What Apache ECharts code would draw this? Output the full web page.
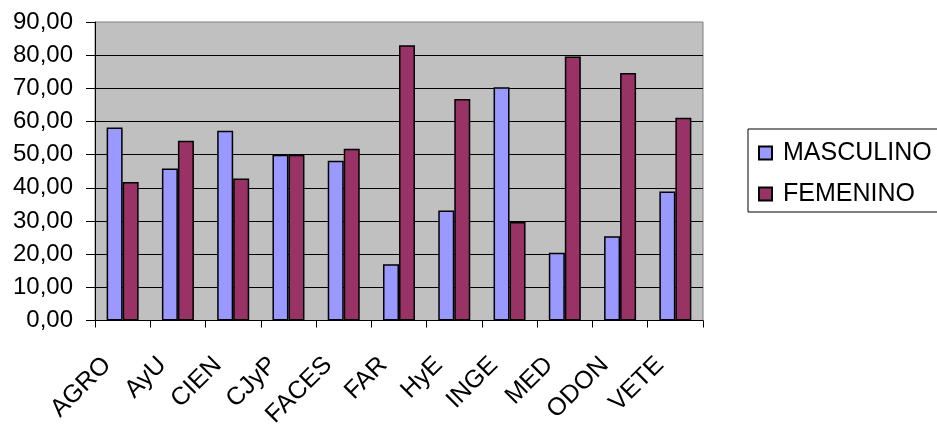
<!DOCTYPE html>
<html>
<head>
<meta charset="utf-8">
<script src="https://cdn.jsdelivr.net/npm/echarts@6/dist/echarts.min.js"></script>
<style>
html,body{margin:0;padding:0;background:#fff;}
#chart{width:937px;height:430px;}
</style>
</head>
<body>
<div id="chart"></div>
<script>
var categories = ['AGRO','AyU','CIEN','CJyP','FACES','FAR','HyE','INGE','MED','ODON','VETE'];
var masculino = [58.2, 45.8, 57.2, 50.0, 48.2, 17.0, 33.2, 70.3, 20.4, 25.4, 38.9];
var femenino = [41.8, 54.2, 42.8, 50.0, 51.8, 83.0, 66.8, 29.7, 79.6, 74.6, 61.1];
var seriesNames = ['MASCULINO', 'FEMENINO'];
var yMin = 0, yMax = 90, yStep = 10;

var FONT = '"Liberation Sans", Arial, sans-serif';
var chart = echarts.init(document.getElementById('chart'), null, {renderer: 'canvas'});
chart.setOption({
  animation: false,
  backgroundColor: '#ffffff',
  textStyle: {fontFamily: FONT, color: '#000'},
  grid: {
    left: 95, right: 234, top: 22, bottom: 108,
    show: true, backgroundColor: '#C0C0C0', borderColor: '#808080', borderWidth: 1
  },
  legend: {
    orient: 'vertical',
    left: 748, top: 129,
    padding: [10, 6, 4, 10],
    borderColor: '#000', borderWidth: 1, backgroundColor: '#fff',
    icon: 'rect', itemWidth: 13, itemHeight: 13, itemGap: 13,
    textStyle: {fontFamily: FONT, fontSize: 25, color: '#000', lineHeight: 28, padding: [0, 0, 0, 6]},
    data: seriesNames
  },
  xAxis: {
    type: 'category',
    data: categories,
    axisLine: {show: true, lineStyle: {color: '#000', width: 1}},
    axisTick: {show: true, length: 7, alignWithLabel: false, interval: 0, lineStyle: {color: '#000'}},
    axisLabel: {
      interval: 0, rotate: 45, margin: 25,
      fontFamily: FONT, fontSize: 25, color: '#000',
      padding: [0, 22, 0, 0]
    },
    splitLine: {show: false}
  },
  yAxis: {
    type: 'value',
    min: yMin, max: yMax, interval: yStep,
    axisLine: {show: true, lineStyle: {color: '#000', width: 1}},
    axisTick: {show: true, length: 9, inside: false, lineStyle: {color: '#000'}},
    axisLabel: {
      margin: 22, fontFamily: FONT, fontSize: 24, color: '#000',
      formatter: function (v) { return v.toFixed(2).replace('.', ','); }
    },
    splitLine: {show: true, showMaxLine: false, lineStyle: {color: '#000', width: 1}}
  },
  series: [
    {
      name: seriesNames[0], type: 'bar', data: masculino,
      barWidth: 16, barGap: '0%',
      itemStyle: {color: '#9999FF', borderColor: '#000', borderWidth: 1.5}
    },
    {
      name: seriesNames[1], type: 'bar', data: femenino,
      barWidth: 16, barGap: '0%',
      itemStyle: {color: '#993366', borderColor: '#000', borderWidth: 1.5}
    }
  ]
});
</script>
</body>
</html>
